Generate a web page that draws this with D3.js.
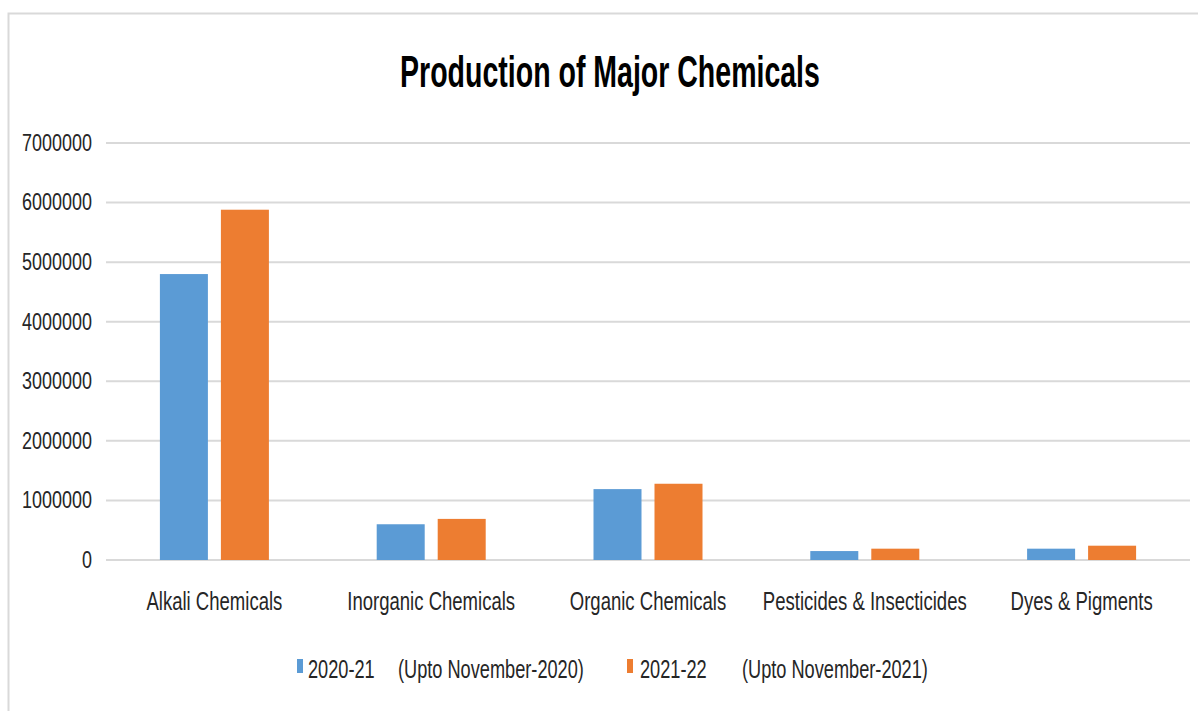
<!DOCTYPE html>
<html><head><meta charset="utf-8">
<script src="https://cdn.jsdelivr.net/npm/d3@7"></script>
<style>body{margin:0;background:#fff}svg{display:block}text{font-family:"Liberation Sans",Arial,sans-serif}</style>
</head><body>
<svg id="c" width="1198" height="711"></svg>
<script>
const categories = ["Alkali Chemicals","Inorganic Chemicals","Organic Chemicals","Pesticides & Insecticides","Dyes & Pigments"];
const seriesYears = ["2020-21","2021-22"];
const seriesNotes = ["(Upto November-2020)","(Upto November-2021)"];
const values2020 = [4800000, 600000, 1190000, 150000, 190000];
const values2021 = [5880000, 690000, 1280000, 190000, 240000];
const yTicks = [0,1000000,2000000,3000000,4000000,5000000,6000000,7000000];
const colors = ["#5b9bd5","#ed7d31"];

const svg = d3.select("#c");
svg.append("rect").attr("x",8.5).attr("y",13.5).attr("width",1200).attr("height",710)
  .attr("fill","#fff").attr("stroke","#d9d9d9").attr("stroke-width",2);

const L=106,R=1190,T=143,B=560;
const x = d3.scaleBand().domain(categories).range([L,R]);
const y = d3.scaleLinear().domain([0,7000000]).range([B,T]);

function measure(str, size, weight){
  const t = svg.append("text").attr("font-size",size).attr("font-weight",weight||"normal").text(str);
  const w = t.node().getComputedTextLength(); t.remove(); return w;
}

svg.append("g").selectAll("line").data(yTicks).join("line")
  .attr("x1",L).attr("x2",R).attr("y1",d=>y(d)).attr("y2",d=>y(d))
  .attr("stroke","#d9d9d9").attr("stroke-width",2);

const tickSize=23, sxT = 70/measure("7000000",tickSize);
const yAxis = d3.axisLeft(y).tickValues(yTicks).tickFormat(d3.format("d")).tickSize(0).tickPadding(14);
const ga = svg.append("g").attr("transform",`translate(${L},0)`).call(yAxis);
ga.select(".domain").remove();
ga.selectAll("text").attr("font-size",tickSize).attr("fill","#262626").attr("font-family",null)
  .attr("x",-14/sxT).attr("transform",`scale(${sxT},1)`);

const data = categories.map((c,i)=>({c, v:[values2020[i],values2021[i]]}));
const bw=48, gap=13;
const g = svg.append("g");
data.forEach(d=>{
  const cx = x(d.c)+x.bandwidth()/2;
  d.v.forEach((v,j)=>{
    const x0 = j===0 ? cx-gap/2-bw : cx+gap/2;
    g.append("rect").attr("x",x0).attr("y",y(v)).attr("width",bw).attr("height",B-y(v)).attr("fill",colors[j]);
  });
});

const catSize=26, sxC = 136/measure("Alkali Chemicals",catSize);
const xAxis = d3.axisBottom(x).tickSize(0).tickPadding(0);
const gx = svg.append("g").attr("transform",`translate(0,${B})`).call(xAxis);
gx.select(".domain").remove();
gx.selectAll("text").attr("font-size",catSize).attr("fill","#262626").attr("font-family",null)
  .attr("dy",null).attr("y",50).attr("transform",`scale(${sxC},1)`);

const tSize=45, sxTi = 420/measure("Production of Major Chemicals",tSize,"bold");
svg.append("text").attr("transform",`translate(610,87) scale(${sxTi},1)`).attr("text-anchor","middle")
  .attr("font-size",tSize).attr("font-weight","bold").attr("fill","#000")
  .text("Production of Major Chemicals");

const legSize=26, sxL = 186/measure(seriesNotes[0],legSize);
const legSq=[297,627], legYear=[308,640], legNote=[398,742];
seriesYears.forEach((s,i)=>{
  svg.append("rect").attr("x",legSq[i]).attr("y",659).attr("width",6).attr("height",14).attr("fill",colors[i]);
  svg.append("text").attr("transform",`translate(${legYear[i]},678) scale(${sxL},1)`).attr("font-size",legSize).attr("fill","#262626").text(s);
  svg.append("text").attr("transform",`translate(${legNote[i]},678) scale(${sxL},1)`).attr("font-size",legSize).attr("fill","#262626").text(seriesNotes[i]);
});
</script>
</body></html>
